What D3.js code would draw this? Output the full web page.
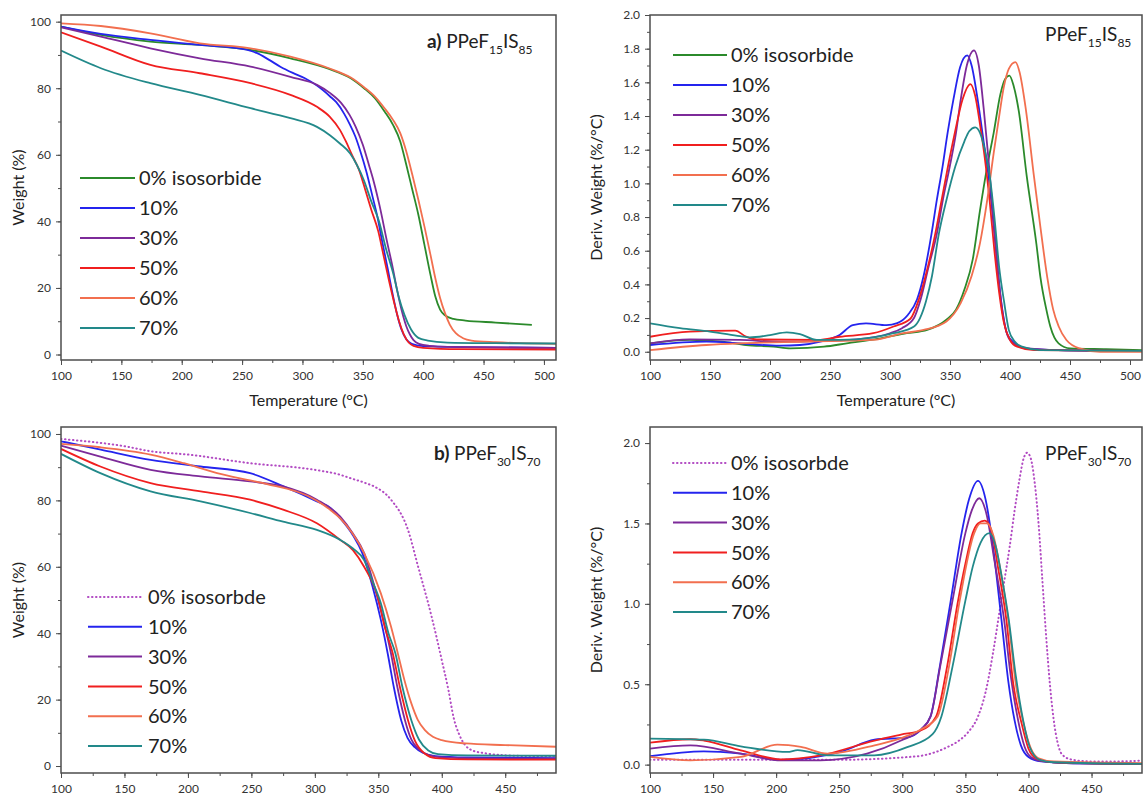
<!DOCTYPE html>
<html>
<head>
<meta charset="utf-8">
<script src="https://cdn.jsdelivr.net/npm/d3@7"></script>
<style>
  body { margin: 0; background: #fff; }
  svg { font-family: Lato, "Open Sans", sans-serif; }
</style>
</head>
<body>
<svg id="fig" width="1145" height="798"></svg>
<script>
// ---------- tick values ----------
const xTicksTop    = [100, 150, 200, 250, 300, 350, 400, 450, 500];
const xTicksBottom = [100, 150, 200, 250, 300, 350, 400, 450];
const weightTicks  = [0, 20, 40, 60, 80, 100];
const derivTicksTop    = [0, 0.2, 0.4, 0.6, 0.8, 1.0, 1.2, 1.4, 1.6, 1.8, 2.0];
const derivTicksBottom = [0, 0.5, 1.0, 1.5, 2.0];

// ---------- legend labels ----------
const labelsTop    = ["0% isosorbide", "10%", "30%", "50%", "60%", "70%"];
const labelsBottom = ["0% isosorbde",  "10%", "30%", "50%", "60%", "70%"];

// ---------- a) TGA, PPeF15IS85 : [temperature °C, weight %] ----------
const tgaA_0  = [[100,98.5],[133,96],[174,94],[215,93],[257,91.5],[290,89],[322,85.8],[340,83],[351,80],[360,77],[368,73],[375,69],[381,64],[386,57],[391,49.5],[396,42],[401,33],[406,24],[410,17.5],[414,13.5],[418,11.8],[425,10.7],[435,10.2],[460,9.6],[490,8.9]];
const tgaA_10 = [[100,98.5],[133,96.3],[174,94.5],[215,93],[250,91.8],[262,90.6],[272,88.6],[282,86.4],[292,84.6],[302,83],[312,80.8],[322.7,77.6],[328,75.8],[334.6,72.3],[339,69.3],[343.8,65.5],[348,61],[352.9,55],[358,47.5],[362,41.5],[366,34],[370.5,26],[374.5,18.5],[378.4,12],[382,7.5],[386,4.6],[390.5,3.2],[400,2.5],[430,2.2],[510,2.0]];
const tgaA_30 = [[100,98.3],[133,95.5],[174,92],[215,89],[257,86.5],[290,83.4],[312,81],[322.7,78.6],[332,75.6],[339,72],[344,68.5],[350,63],[355,57],[359,52],[364,44.5],[370,34],[374.8,26],[378,20],[382,13.5],[386,8.5],[389,6],[392,4.3],[396.5,3.2],[405,2.6],[420,2.3],[510,2.0]];
const tgaA_50 = [[100,96.8],[133,92.5],[174,87],[215,84.5],[257,81.5],[290,78],[312,74.4],[322.7,71.4],[331,67.5],[336,64],[341,60],[346.8,55.5],[352,49.5],[357,43.5],[362.8,37],[367,30],[371.8,22],[376,15.5],[380,10],[384,6],[388,3.6],[392,2.6],[400,2.0],[430,1.6],[510,1.5]];
const tgaA_60 = [[100,99.5],[133,98.7],[174,96.5],[215,93.5],[257,92],[290,89.5],[322,86],[340,83.2],[351,80.3],[360,77.5],[368,74],[375,70.5],[381,66.5],[386,61],[391,54],[396,46.5],[401,38.5],[406,30],[410,23],[414,17],[418,12.5],[422,9],[427,6.4],[433,4.9],[440,4.2],[460,3.7],[480,3.4],[510,3.2]];
const tgaA_70 = [[100,91.3],[133,86],[174,81.5],[215,78],[257,74],[290,71],[312,68.4],[322.7,65.9],[331,63.4],[339.5,60.4],[345,57],[350.7,52.5],[357,46],[363.4,40],[369,32],[375.4,24],[380,17],[384.4,12],[390,7.5],[396,5],[403.8,4.2],[420,3.6],[460,3.4],[510,3.3]];

// ---------- DTG, PPeF15IS85 : [temperature °C, deriv. weight %/°C] ----------
const dtgA_0  = [[100,0.05],[133,0.07],[160,0.06],[180,0.04],[203,0.03],[217,0.02],[245,0.03],[264,0.05],[292,0.08],[314,0.11],[331,0.13],[347,0.19],[355,0.25],[362,0.37],[369,0.55],[375,0.84],[381,1.1],[386.4,1.3],[392,1.53],[396,1.62],[399.5,1.64],[403,1.58],[407.3,1.43],[414,1.04],[422,0.64],[425.3,0.445],[430.3,0.25],[433.6,0.15],[440.5,0.05],[450,0.02],[480,0.015],[510,0.01]];
const dtgA_10 = [[100,0.04],[147,0.06],[175,0.05],[208,0.036],[225,0.04],[242,0.06],[258,0.1],[269,0.158],[280,0.168],[297,0.158],[306,0.17],[315,0.22],[322.5,0.31],[328,0.45],[334.6,0.7],[339,0.9],[343.8,1.1],[348,1.3],[352.9,1.5],[358.4,1.69],[364.4,1.76],[368,1.7],[373,1.5],[378,1.25],[382,1.05],[385,0.85],[388,0.63],[391,0.4],[394,0.23],[398,0.1],[404,0.05],[412,0.02],[440,0.01],[510,0.005]];
const dtgA_30 = [[100,0.05],[133,0.073],[175,0.07],[208,0.06],[242,0.063],[272,0.073],[300,0.11],[310,0.14],[320,0.2],[325.5,0.31],[332,0.5],[339,0.7],[344,0.9],[349.8,1.1],[355,1.3],[359,1.5],[364,1.7],[370,1.79],[374,1.7],[378,1.45],[382,1.15],[386,0.8],[389,0.55],[392,0.33],[395,0.18],[399,0.08],[405,0.04],[415,0.02],[440,0.01],[510,0.005]];
const dtgA_50 = [[100,0.089],[133,0.12],[171,0.125],[180,0.09],[189,0.073],[240,0.07],[258,0.089],[286,0.11],[303,0.15],[317,0.196],[324,0.31],[330,0.46],[337.7,0.7],[343,0.9],[348.3,1.1],[354,1.3],[360.5,1.5],[367,1.59],[371,1.52],[375,1.35],[379,1.15],[383,0.9],[387,0.6],[391,0.35],[395,0.17],[400,0.07],[406,0.03],[420,0.01],[510,0.005]];
const dtgA_60 = [[100,0.01],[147,0.04],[175,0.05],[231,0.06],[286,0.07],[311,0.11],[328,0.13],[347,0.18],[359,0.29],[368,0.45],[375,0.645],[381,0.9],[386.4,1.18],[391,1.4],[394.8,1.57],[399,1.68],[404.5,1.72],[408,1.66],[413,1.45],[420,1.04],[425,0.76],[431,0.445],[436,0.25],[440.6,0.15],[447,0.07],[458,0.02],[475,0.0],[510,0.0]];
const dtgA_70 = [[100,0.169],[125,0.14],[150,0.12],[175,0.093],[183,0.085],[200,0.099],[214,0.115],[225,0.105],[239,0.07],[258,0.07],[286,0.085],[303,0.11],[320,0.15],[330,0.3],[335,0.45],[340.7,0.7],[347,0.9],[354.4,1.1],[362,1.25],[366,1.31],[371,1.333],[375,1.3],[379,1.2],[383,1.05],[387,0.8],[391,0.5],[395,0.3],[399,0.13],[404,0.06],[410,0.03],[425,0.01],[510,0.005]];

// ---------- b) TGA, PPeF30IS70 ----------
const tgaB_0  = [[100,98.5],[150,96.3],[170.6,94.8],[200,93.8],[249,91.2],[300,89.2],[320,87.7],[328,86.7],[340,85.2],[346.7,84.2],[360,80.2],[373.4,71.1],[381.4,60],[392,45],[400,31.9],[405.3,22.8],[409.4,14.5],[413.4,9.8],[418,6.5],[424,4.7],[435,3.8],[450.7,3.2],[470,3.0],[490,2.9]];
const tgaB_10 = [[100,97.8],[131.3,95.3],[170.6,92.2],[209.9,90.2],[249,88.2],[275.4,84.2],[301.6,79.7],[312.3,77.7],[320,74.6],[330,69.5],[337.4,64.1],[345.5,54],[352,44],[357.4,33.9],[362.2,23.8],[368,13.8],[373,8.5],[378.7,5.7],[385,4],[395,3],[420,2.6],[490,2.4]];
const tgaB_30 = [[100,96.5],[131,93.2],[170.6,89.2],[210,87.2],[249,85.7],[275,84.2],[301.6,80.2],[320,75.1],[330,70],[339,64],[347,54],[354,44],[360,33.9],[365,23.8],[371,13.8],[376,8],[382,5],[390,3.3],[400,2.6],[430,2.3],[490,2.2]];
const tgaB_50 = [[100,95.5],[131,90.2],[170.6,85.2],[210,82.7],[249,80.2],[275,77.2],[301.6,73.1],[320,68.1],[330,65],[338.8,60],[349.5,51],[355,42],[361.4,33.9],[367,23.8],[373.4,13.8],[379,7.5],[386.7,3.7],[395,2.4],[420,2.0],[490,1.9]];
const tgaB_60 = [[100,97],[131,96],[170.6,93.8],[196.8,91.2],[223,88.2],[249,86],[262.3,84.9],[301.6,79.9],[312.3,77.1],[320,74.6],[338.8,64.1],[352,52],[360,42],[365.4,33.9],[370.5,26],[376.1,18.8],[381,14],[386.7,10.8],[393,8.8],[400,7.8],[418.7,6.8],[450,6.3],[490,5.8]];
const tgaB_70 = [[100,94],[131,88.2],[170.6,82.7],[210,79.7],[249,76.2],[275,73.6],[301.6,71.1],[320,68.1],[330,65.5],[338.8,62],[345,56],[352,49],[358,40],[363.5,33.9],[369,23.8],[376,13.8],[382,8],[389.4,4.7],[397,3.6],[420,3.2],[490,3.1]];

// ---------- DTG, PPeF30IS70 ----------
const dtgB_0  = [[100,0.03],[150,0.03],[200,0.03],[250,0.03],[278,0.035],[300,0.045],[317,0.058],[336,0.11],[345,0.15],[352,0.2],[360,0.3],[366,0.45],[372,0.7],[377,0.95],[381,1.15],[385,1.35],[389,1.58],[393,1.78],[396,1.9],[399,1.94],[402,1.9],[405,1.75],[408,1.5],[411,1.15],[414,0.8],[417,0.5],[420,0.28],[423,0.14],[427,0.06],[435,0.03],[450,0.02],[470,0.02],[490,0.025]];
const dtgB_10 = [[100,0.052],[142.7,0.083],[172,0.068],[204,0.03],[251,0.079],[278,0.155],[304,0.17],[315,0.22],[322.4,0.3],[329.7,0.61],[338.4,1.02],[347,1.44],[352.9,1.65],[360,1.765],[366,1.65],[372,1.35],[378.6,0.9],[384,0.52],[389,0.275],[394,0.12],[400,0.048],[410,0.02],[430,0.01],[490,0.005]];
const dtgB_30 = [[100,0.1],[132,0.12],[172,0.068],[204,0.027],[235,0.027],[272,0.068],[299,0.15],[315,0.22],[322.4,0.3],[330,0.61],[339.8,1.02],[350,1.44],[355,1.58],[361,1.657],[367,1.55],[373,1.27],[380.7,0.9],[386,0.55],[391.8,0.275],[397,0.11],[402.4,0.045],[412,0.02],[430,0.01],[490,0.005]];
const dtgB_50 = [[100,0.137],[132,0.158],[142.7,0.15],[172,0.089],[203.7,0.033],[235.4,0.058],[278,0.15],[299,0.187],[315,0.214],[326.8,0.3],[335.5,0.61],[344.2,1.02],[350,1.25],[355.8,1.44],[360,1.5],[365.3,1.518],[370,1.47],[376,1.22],[382.5,0.9],[388,0.5],[394,0.275],[400,0.1],[406,0.04],[420,0.015],[490,0.005]];
const dtgB_60 = [[100,0.048],[132,0.027],[172,0.048],[201,0.124],[219.6,0.11],[240.8,0.068],[278,0.12],[304.4,0.18],[315,0.22],[328,0.3],[337,0.61],[345.5,1.02],[357,1.44],[362,1.5],[367.5,1.5],[372,1.43],[378,1.2],[384,0.9],[390,0.5],[396,0.26],[402,0.1],[408,0.04],[420,0.02],[490,0.01]];
const dtgB_70 = [[100,0.162],[142.7,0.155],[171.9,0.114],[209,0.079],[217,0.09],[240.8,0.058],[277.8,0.058],[304.4,0.11],[324,0.19],[331,0.3],[339.8,0.61],[350,1.02],[355.8,1.23],[362,1.38],[369,1.44],[374,1.36],[379,1.16],[384.4,0.9],[390,0.55],[395.8,0.275],[401,0.11],[409,0.03],[420,0.015],[490,0.005]];

// ---------- series styling ----------
const colors = { green: "#2b8a2b", blue: "#2424ee", purple: "#7d2a99", red: "#f01f1f", salmon: "#f26f4f", teal: "#22898a", dotted: "#b24bc3" };

const seriesTopTGA = [
  { data: tgaA_0,  color: colors.green },  { data: tgaA_10, color: colors.blue },
  { data: tgaA_30, color: colors.purple }, { data: tgaA_50, color: colors.red },
  { data: tgaA_60, color: colors.salmon }, { data: tgaA_70, color: colors.teal }
];
const seriesTopDTG = [
  { data: dtgA_0,  color: colors.green },  { data: dtgA_10, color: colors.blue },
  { data: dtgA_30, color: colors.purple }, { data: dtgA_50, color: colors.red },
  { data: dtgA_60, color: colors.salmon }, { data: dtgA_70, color: colors.teal }
];
const seriesBotTGA = [
  { data: tgaB_0,  color: colors.dotted, dotted: true }, { data: tgaB_10, color: colors.blue },
  { data: tgaB_30, color: colors.purple }, { data: tgaB_50, color: colors.red },
  { data: tgaB_60, color: colors.salmon }, { data: tgaB_70, color: colors.teal }
];
const seriesBotDTG = [
  { data: dtgB_0,  color: colors.dotted, dotted: true }, { data: dtgB_10, color: colors.blue },
  { data: dtgB_30, color: colors.purple }, { data: dtgB_50, color: colors.red },
  { data: dtgB_60, color: colors.salmon }, { data: dtgB_70, color: colors.teal }
];

// ---------- panel layout ----------
const panels = [
  { id: "a", box: [61, 15, 556, 360], xDom: [100, 510], yDom: [-1.65, 102],
    xTicks: xTicksTop, yTicks: weightTicks, yMinorStep: 10, yFmt: d3.format("d"),
    series: seriesTopTGA, labels: labelsTop, yTitle: "Weight (%)", yTitleX: 18, xTitle: true,
    legend: { x1: 80, x2: 135, tx: 139, y0: 178, dy: 30 },
    title: { x: 427, y: 48, bold: "a)", sub1: "15", sub2: "85" } },
  { id: "c", box: [650, 15, 1142, 360], xDom: [100, 510], yDom: [-0.049, 2.0],
    xTicks: xTicksTop, yTicks: derivTicksTop, yMinorStep: 0.1, yFmt: d3.format(".1f"),
    series: seriesTopDTG, labels: labelsTop, yTitle: "Deriv. Weight (%/°C)", yTitleX: 596, xTitle: true,
    legend: { x1: 673, x2: 727, tx: 731, y0: 55, dy: 30 },
    title: { x: 1045, y: 41, bold: null, sub1: "15", sub2: "85" } },
  { id: "b", box: [61, 427, 556, 773], xDom: [100, 490], yDom: [-2.1, 102.1],
    xTicks: xTicksBottom, yTicks: weightTicks, yMinorStep: 10, yFmt: d3.format("d"),
    series: seriesBotTGA, labels: labelsBottom, yTitle: "Weight (%)", yTitleX: 18, xTitle: false,
    legend: { x1: 88, x2: 142, tx: 148, y0: 597, dy: 29.8 },
    title: { x: 434, y: 460, bold: "b)", sub1: "30", sub2: "70" } },
  { id: "d", box: [650, 427, 1142, 773], xDom: [100, 490], yDom: [-0.052, 2.1],
    xTicks: xTicksBottom, yTicks: derivTicksBottom, yMinorStep: 0.25, yFmt: d3.format(".1f"),
    series: seriesBotDTG, labels: labelsBottom, yTitle: "Deriv. Weight (%/°C)", yTitleX: 596, xTitle: false,
    legend: { x1: 673, x2: 727, tx: 731, y0: 463, dy: 29.8 },
    title: { x: 1045, y: 460, bold: null, sub1: "30", sub2: "70" } }
];

const svg = d3.select("#fig");
const frameColor = "#4d4d4d";
const tickTextColor = "#333";

panels.forEach(p => {
  const [x0, y0, x1, y1] = p.box;
  const x = d3.scaleLinear().domain(p.xDom).range([x0, x1]);
  const y = d3.scaleLinear().domain(p.yDom).range([y1, y0]);

  const clipId = "clip-" + p.id;
  svg.append("clipPath").attr("id", clipId)
    .append("rect").attr("x", x0).attr("y", y0).attr("width", x1 - x0).attr("height", y1 - y0);

  // minor + major x ticks
  const xMinor = d3.range(p.xDom[0], p.xDom[1] + 0.001, 25);
  svg.append("g").attr("transform", `translate(0,${y1})`)
    .call(d3.axisBottom(x).tickValues(xMinor).tickSize(3).tickFormat(""))
    .call(g => g.select(".domain").remove())
    .call(g => g.selectAll("line").attr("stroke", frameColor));
  svg.append("g").attr("transform", `translate(0,${y1})`)
    .call(d3.axisBottom(x).tickValues(p.xTicks).tickSize(5).tickPadding(6).tickFormat(d3.format("d")))
    .call(g => g.select(".domain").remove())
    .call(g => g.selectAll("line").attr("stroke", frameColor))
    .call(g => g.selectAll("text").attr("fill", tickTextColor).style("font-size", "12px").style("font-family", "Lato, sans-serif"));

  // minor + major y ticks
  const yMinor = d3.range(0, p.yDom[1] + 1e-6, p.yMinorStep);
  svg.append("g").attr("transform", `translate(${x0},0)`)
    .call(d3.axisLeft(y).tickValues(yMinor).tickSize(3).tickFormat(""))
    .call(g => g.select(".domain").remove())
    .call(g => g.selectAll("line").attr("stroke", frameColor));
  svg.append("g").attr("transform", `translate(${x0},0)`)
    .call(d3.axisLeft(y).tickValues(p.yTicks).tickSize(5).tickPadding(5).tickFormat(p.yFmt))
    .call(g => g.select(".domain").remove())
    .call(g => g.selectAll("line").attr("stroke", frameColor))
    .call(g => g.selectAll("text").attr("fill", tickTextColor).style("font-size", "12px").style("font-family", "Lato, sans-serif"));

  // curves
  const line = d3.line().x(d => x(d[0])).y(d => y(d[1])).curve(d3.curveMonotoneX);
  const plot = svg.append("g").attr("clip-path", `url(#${clipId})`);
  p.series.forEach(s => {
    plot.append("path").datum(s.data)
      .attr("d", line)
      .attr("fill", "none")
      .attr("stroke", s.color)
      .attr("stroke-width", s.dotted ? 2 : 1.8)
      .attr("stroke-linecap", s.dotted ? "round" : "butt")
      .attr("stroke-dasharray", s.dotted ? "0.5,3.5" : null)
      .attr("stroke-linejoin", "round");
  });

  // frame
  svg.append("rect").attr("x", x0).attr("y", y0).attr("width", x1 - x0).attr("height", y1 - y0)
    .attr("fill", "none").attr("stroke", frameColor).attr("stroke-width", 1.5);

  // legend
  p.series.forEach((s, i) => {
    const ly = p.legend.y0 + i * p.legend.dy;
    svg.append("line").attr("x1", p.legend.x1).attr("x2", p.legend.x2).attr("y1", ly).attr("y2", ly)
      .attr("stroke", s.color).attr("stroke-width", 2)
      .attr("stroke-linecap", s.dotted ? "round" : "butt")
      .attr("stroke-dasharray", s.dotted ? "0.5,3.5" : null);
    svg.append("text").attr("x", p.legend.tx).attr("y", ly).attr("dy", "0.36em")
      .attr("fill", "#222").style("font-size", "20px").text(p.labels[i]);
  });

  // panel title with subscripts
  const t = svg.append("text").attr("x", p.title.x).attr("y", p.title.y)
    .attr("fill", "#222").style("font-size", "19px");
  if (p.title.bold) t.append("tspan").style("font-weight", "bold").text(p.title.bold + " ");
  t.append("tspan").text("PPeF");
  t.append("tspan").attr("dy", 6).style("font-size", "12px").text(p.title.sub1);
  t.append("tspan").attr("dy", -6).text("IS");
  t.append("tspan").attr("dy", 6).style("font-size", "12px").text(p.title.sub2);

  // axis titles
  svg.append("text")
    .attr("transform", `translate(${p.yTitleX},${(y0 + y1) / 2}) rotate(-90)`)
    .attr("text-anchor", "middle").attr("dy", "0.35em")
    .attr("fill", "#222").style("font-size", "16px").text(p.yTitle);
  if (p.xTitle) {
    svg.append("text").attr("x", (x0 + x1) / 2).attr("y", y1 + 46)
      .attr("text-anchor", "middle").attr("fill", "#222").style("font-size", "16px")
      .text("Temperature (°C)");
  }
});
</script>
</body>
</html>
